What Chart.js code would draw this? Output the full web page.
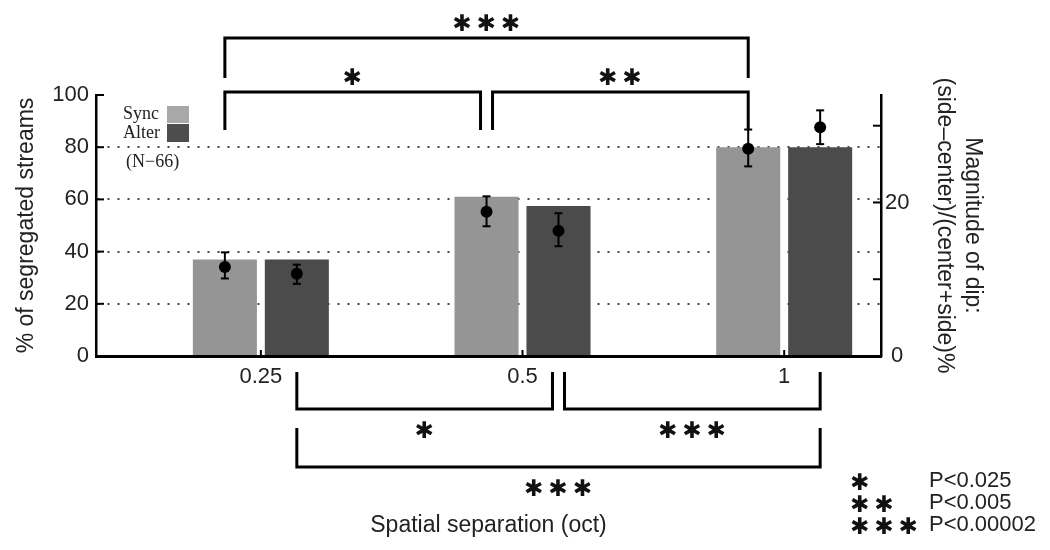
<!DOCTYPE html>
<html>
<head>
<meta charset="utf-8">
<title>Segregated streams vs spatial separation</title>
<script src="https://cdn.jsdelivr.net/npm/chart.js@4/dist/chart.umd.min.js"></script>
<style>
    html, body { margin: 0; padding: 0; background: #fff; }
    #wrap { width: 1050px; height: 550px; }
</style>
</head>
<body>
<div id="wrap"><canvas id="chart" width="1050" height="550"></canvas></div>
<script>
'use strict';

// categories and series
let separations = ['0.25', '0.5', '1'];
let seriesNames = ['Sync', 'Alter'];
let syncPercent = [37, 61, 80];
let alterPercent = [37, 57.5, 80];

// magnitude of dip (right axis), mean with error range
let syncDip = [11.6, 18.8, 27.0];
let syncDipLow = [10.1, 16.9, 24.7];
let syncDipHigh = [13.5, 20.8, 29.5];
let alterDip = [10.7, 16.3, 29.8];
let alterDipLow = [9.4, 14.3, 27.6];
let alterDipHigh = [11.9, 18.6, 32.0];

let leftTicks = [0, 20, 40, 60, 80, 100];
let rightTicks = [0, 10, 20, 30];
let rightLabelled = [0, 20];

// significance brackets: [from category, to category, stars]
let syncBrackets = [[0, 1, '✱'], [1, 2, '✱✱'], [0, 2, '✱✱✱']];
let alterBrackets = [[0, 1, '✱'], [1, 2, '✱✱✱'], [0, 2, '✱✱✱']];
let pStars = ['✱', '✱✱', '✱✱✱'];
let pLabels = ['P<0.025', 'P<0.005', 'P<0.00002'];

let sampleNote = '(N\u221266)';

let xPositions = separations.map((s, i) => i + 1);
let dipSeries = [
    [syncDip, syncDipLow, syncDipHigh],
    [alterDip, alterDipLow, alterDipHigh]
];

const SANS = "'Liberation Sans', Arial, sans-serif";
const STAR_FONT = "bold 23px 'DejaVu Sans'";
const canvasEl = document.getElementById('chart');

function toPoints(values) {
    return values.map((v, i) => ({ x: xPositions[i], y: v }));
}

function drawStars(ctx, text, x, y, align) {
    ctx.save();
    ctx.font = STAR_FONT;
    if ('letterSpacing' in ctx) ctx.letterSpacing = '5px';
    ctx.textAlign = align;
    ctx.textBaseline = 'alphabetic';
    const m = ctx.measureText(text);
    ctx.fillStyle = '#111';
    ctx.fillText(text, align === 'center' ? x + 2 : x, y + (m.actualBoundingBoxAscent - m.actualBoundingBoxDescent) / 2);
    ctx.restore();
}

function line(ctx, pts) {
    ctx.beginPath();
    ctx.moveTo(pts[0][0], pts[0][1]);
    for (let i = 1; i < pts.length; i++) ctx.lineTo(pts[i][0], pts[i][1]);
    ctx.stroke();
}

const extras = {
    id: 'extras',
    afterDatasetsDraw(chart) {
        const ctx = chart.ctx;
        const yR = chart.scales.yR;
        ctx.save();
        ctx.strokeStyle = '#000';
        ctx.fillStyle = '#000';
        ctx.lineWidth = 2;
        dipSeries.forEach((series, d) => {
            chart.getDatasetMeta(d).data.forEach((bar, i) => {
                const yMid = yR.getPixelForValue(series[0][i]);
                const yLo = yR.getPixelForValue(series[1][i]);
                const yHi = yR.getPixelForValue(series[2][i]);
                line(ctx, [[bar.x, yLo], [bar.x, yHi]]);
                line(ctx, [[bar.x - 4, yLo], [bar.x + 4, yLo]]);
                line(ctx, [[bar.x - 4, yHi], [bar.x + 4, yHi]]);
                ctx.beginPath();
                ctx.arc(bar.x, yMid, 6, 0, Math.PI * 2);
                ctx.fill();
            });
        });
        ctx.restore();
    },
    afterDraw(chart) {
        const ctx = chart.ctx;
        const area = chart.chartArea;
        const x = chart.scales.x;
        const y = chart.scales.y;
        const yR = chart.scales.yR;
        ctx.save();
        ctx.strokeStyle = '#000';
        ctx.lineWidth = 2;

        // inward tick marks
        xPositions.forEach(v => {
            const px = x.getPixelForValue(v);
            line(ctx, [[px, area.bottom], [px, area.bottom - 6]]);
        });
        leftTicks.forEach(v => {
            const py = y.getPixelForValue(v);
            line(ctx, [[area.left, py], [area.left + 8, py]]);
        });
        rightTicks.forEach(v => {
            const py = yR.getPixelForValue(v);
            line(ctx, [[area.right, py], [area.right - 8, py]]);
        });

        // legend box
        ctx.font = "18px 'Liberation Serif', 'Times New Roman', serif";
        ctx.fillStyle = '#222';
        ctx.textBaseline = 'middle';
        ctx.textAlign = 'right';
        ctx.fillText(seriesNames[0], area.left + 63, area.top + 19);
        ctx.fillText(seriesNames[1], area.left + 64, area.top + 38);
        ctx.textAlign = 'left';
        ctx.fillText(sampleNote, area.left + 30, area.top + 67);
        ctx.fillStyle = '#a8a8a8';
        ctx.fillRect(area.left + 71, area.top + 11, 22, 17);
        ctx.fillStyle = '#4d4d4d';
        ctx.fillRect(area.left + 71, area.top + 29, 22, 18);

        // significance brackets
        ctx.lineWidth = 3;
        const n = xPositions.length;
        const brackets = [
            { list: syncBrackets, meta: chart.getDatasetMeta(0), dir: -1 },
            { list: alterBrackets, meta: chart.getDatasetMeta(1), dir: 1 }
        ];
        brackets.forEach(group => {
            group.list.forEach(b => {
                const wide = b[1] - b[0] > 1;
                let x1 = group.meta.data[b[0]].x;
                let x2 = group.meta.data[b[1]].x;
                if (!wide) {
                    if (b[0] > 0) x1 += 6;
                    if (b[1] < n - 1) x2 -= 6;
                }
                let yLine, yLeg, yText;
                if (group.dir < 0) {
                    yLine = wide ? area.top - 57 : area.top - 3;
                    yLeg = wide ? area.top - 17 : area.top + 35;
                    yText = yLine - 16;
                } else {
                    yLine = wide ? area.bottom + 111 : area.bottom + 53;
                    yLeg = wide ? area.bottom + 72 : area.bottom + 16;
                    yText = yLine + 20;
                }
                line(ctx, [[x1, yLeg], [x1, yLine], [x2, yLine], [x2, yLeg]]);
                drawStars(ctx, b[2], (x1 + x2) / 2, yText, 'center');
            });
        });

        // p-value key
        pStars.forEach((s, i) => {
            const rowY = chart.height - 69 + i * 22;
            drawStars(ctx, s, chart.width - 200, rowY, 'left');
            ctx.font = '22px ' + SANS;
            ctx.fillStyle = '#222';
            ctx.textAlign = 'left';
            ctx.textBaseline = 'middle';
            ctx.fillText(pLabels[i], chart.width - 121, rowY);
        });
        ctx.restore();
    }
};

new Chart(canvasEl, {
    type: 'bar',
    data: {
        datasets: [{
            label: seriesNames[0],
            data: toPoints(syncPercent),
            backgroundColor: '#959595',
            borderWidth: 0,
            yAxisID: 'y'
        }, {
            label: seriesNames[1],
            data: toPoints(alterPercent),
            backgroundColor: '#4b4b4b',
            borderWidth: 0,
            yAxisID: 'y'
        }]
    },
    options: {
        responsive: false,
        animation: false,
        devicePixelRatio: 1,
        categoryPercentage: 0.55,
        barPercentage: 0.89,
        layout: { padding: { left: 13, right: 64, top: 95, bottom: 11 } },
        plugins: {
            legend: { display: false },
            tooltip: { enabled: false }
        },
        scales: {
            x: {
                type: 'linear',
                min: 0.37,
                max: 3.37,
                offset: false,
                afterBuildTicks: scale => {
                    scale.ticks = xPositions.map(v => ({ value: v }));
                },
                afterFit: scale => {
                    scale.height = 550 - 11 - 356;
                },
                ticks: {
                    callback: (value, index) => separations[index],
                    font: { family: SANS, size: 22 },
                    color: '#222',
                    padding: 8,
                    maxRotation: 0,
                    autoSkip: false
                },
                grid: { display: false, drawTicks: false },
                border: { color: '#000', width: 3 },
                title: {
                    display: true,
                    text: 'Spatial separation (oct)',
                    font: { family: SANS, size: 23 },
                    color: '#222',
                    padding: 0
                }
            },
            y: {
                position: 'left',
                min: 0,
                max: 100,
                afterBuildTicks: scale => {
                    scale.ticks = leftTicks.map(v => ({ value: v }));
                },
                afterFit: scale => {
                    scale.width = 96 - 13;
                },
                ticks: {
                    font: { family: SANS, size: 22 },
                    color: '#222',
                    padding: 7
                },
                grid: {
                    drawTicks: false,
                    lineWidth: 2,
                    color: c => (c.tick && c.tick.value > 0 && c.tick.value < 100) ? '#444' : 'rgba(0,0,0,0)'
                },
                border: { color: '#000', width: 2.5, dash: [2, 8] },
                title: {
                    display: true,
                    text: '% of segregated streams',
                    font: { family: SANS, size: 23 },
                    color: '#222',
                    padding: 0
                }
            },
            yR: {
                position: 'right',
                min: 0,
                max: 34,
                afterBuildTicks: scale => {
                    scale.ticks = rightTicks.map(v => ({ value: v }));
                },
                afterFit: scale => {
                    scale.width = 1050 - 64 - 881;
                },
                ticks: {
                    callback: value => rightLabelled.includes(value) ? String(value) : '',
                    font: { family: SANS, size: 22 },
                    color: '#222',
                    padding: 4,
                    crossAlign: 'center'
                },
                grid: { display: false, drawTicks: false },
                border: { color: '#000', width: 2.5 },
                title: {
                    display: true,
                    text: ['Magnitude of dip:', '(side\u2013center)/(center+side)%'],
                    font: { family: SANS, size: 23 },
                    color: '#222',
                    padding: 0
                }
            }
        }
    },
    plugins: [extras]
});
</script>
</body>
</html>
